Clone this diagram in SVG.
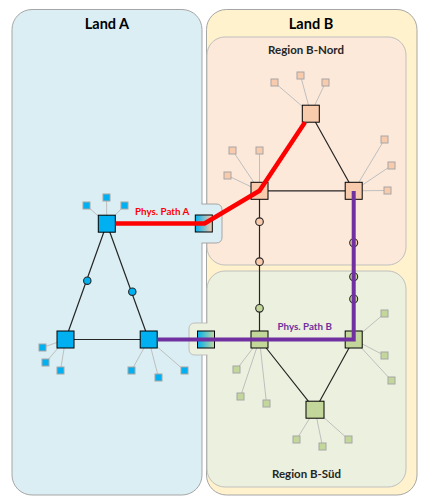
<svg xmlns="http://www.w3.org/2000/svg" width="426" height="503" viewBox="0 0 426 503">
<defs>
<linearGradient id="gA" x1="0" y1="0" x2="1" y2="0"><stop offset="0" stop-color="#00B0F0"/><stop offset="1" stop-color="#F8CBAD"/></linearGradient>
<linearGradient id="gB" x1="0" y1="0" x2="1" y2="0"><stop offset="0" stop-color="#00B0F0"/><stop offset="1" stop-color="#C4D79B"/></linearGradient>
<style>
text{font-family:"Lato","Liberation Sans",sans-serif;font-weight:bold}
.land{stroke:#A6A6A6;stroke-width:1}
.reg{stroke:#BFBFBF;stroke-width:1}
.title{font-size:14.5px;fill:#000;text-anchor:middle}
.rtitle{font-size:11.5px;fill:#262626;text-anchor:middle}
.sl{stroke:#BFBFBF;stroke-width:1;fill:none}
.e{stroke:#262626;stroke-width:1.2;fill:none}
.n{stroke:#000;stroke-width:1}
.s{stroke:#A6A6A6;stroke-width:1}
.blue{fill:#00B0F0}
.peach{fill:#F8CBAD}
.green{fill:#C4D79B}
.dot{stroke:#262626;stroke-width:1.1}
.plab{font-size:9.8px}
</style>
</defs>
<g id="land-a"><rect class="land" x="12" y="9.5" width="190" height="485.5" rx="20" fill="#DAEEF3"/><text class="title" x="107" y="29">Land A</text></g>
<g id="land-b"><rect class="land" x="206.5" y="9.5" width="210.5" height="485.5" rx="20" fill="#FFF2CC"/><text class="title" x="311" y="29">Land B</text></g>
<g id="region-b-nord"><rect class="reg" x="207" y="37" width="199" height="228" rx="18" fill="#FCE9DA"/><text class="rtitle" x="306" y="54">Region B-Nord</text></g>
<g id="region-b-sued"><rect class="reg" x="207" y="271" width="199" height="216" rx="18" fill="#EBF1DE"/><text class="rtitle" x="306.5" y="478">Region B-Süd</text></g>
<g id="tab-a"><path d="M196,204H216Q222,204 222,210V237Q222,243 216,243H196Z" fill="#DAEEF3"/><path class="land" d="M201.5,204H216Q222,204 222,210V237Q222,243 216,243H201.5" fill="none"/></g>
<g id="tab-b"><path d="M213,323H195Q189,323 189,329V349Q189,355 195,355H213Z" fill="#EBF1DE"/><path class="reg" d="M207.5,323H195Q189,323 189,329V349Q189,355 195,355H207.5" fill="none"/></g>
<g id="connectors">
<g id="sat-lines">
<path class="sl" d="M106.8,223.7L86.5,205.5M106.8,223.7L106.5,197.5M106.8,223.7L124.5,205.5"/>
<path class="sl" d="M65.5,339.5L42.5,347.5M65.5,339.5L45.5,362.5M65.5,339.5L60.5,370.5"/>
<path class="sl" d="M148.7,339.5L131.5,370.5M148.7,339.5L158.5,377.5M148.7,339.5L184.5,370.5"/>
<path class="sl" d="M310.8,113.7L274.5,82.5M310.8,113.7L300.5,75.5M310.8,113.7L325.5,82.5"/>
<path class="sl" d="M259.5,190.8L232.5,150.5M259.5,190.8L259.5,150.5M259.5,190.8L227.5,175.5"/>
<path class="sl" d="M353.7,190.8L384.5,139.5M353.7,190.8L391.5,165.5M353.7,190.8L387.5,190.5"/>
<path class="sl" d="M259.5,339.5L236.5,369.5M259.5,339.5L240.5,396.5M259.5,339.5L266.5,403.5"/>
<path class="sl" d="M353.7,339.5L384.5,313.5M353.7,339.5L384.5,355.5M353.7,339.5L391.5,380.5"/>
<path class="sl" d="M315,409.7L296.5,439.5M315,409.7L322.5,446.5M315,409.7L348.5,439.5"/>
</g>
<g id="edges">
<path class="e" d="M106.8,223.7L65.5,339.5M106.8,223.7L148.7,339.5M65.5,339.5H148.7"/>
<path class="e" d="M310.8,113.7L353.7,190.8M259.5,190.8H353.7M259.5,190.8V339.5"/>
<path class="e" d="M259.5,339.5L315,409.7M353.7,339.5L315,409.7"/>
</g>
<g id="dots">
<circle class="dot blue" cx="87.3" cy="280.7" r="3.7"/>
<circle class="dot blue" cx="132.3" cy="291.7" r="3.7"/>
<circle class="dot peach" cx="259.5" cy="221.7" r="3.8"/>
<circle class="dot peach" cx="259.5" cy="261.7" r="3.8"/>
<circle class="dot green" cx="259.5" cy="308.3" r="3.8"/>
<circle class="dot peach" cx="353.7" cy="242.7" r="4"/>
<circle class="dot green" cx="353.7" cy="276.7" r="4"/>
<circle class="dot green" cx="353.7" cy="299" r="4"/>
</g>
</g>
<g id="satellites">
<rect class="s blue" x="83" y="202" width="7" height="7"/><rect class="s blue" x="103" y="194" width="7" height="7"/><rect class="s blue" x="121" y="202" width="7" height="7"/>
<rect class="s blue" x="39" y="344" width="7" height="7"/><rect class="s blue" x="42" y="359" width="7" height="7"/><rect class="s blue" x="57" y="367" width="7" height="7"/>
<rect class="s blue" x="128" y="367" width="7" height="7"/><rect class="s blue" x="155" y="374" width="7" height="7"/><rect class="s blue" x="181" y="367" width="7" height="7"/>
<rect class="s peach" x="271" y="79" width="7" height="7"/><rect class="s peach" x="297" y="72" width="7" height="7"/><rect class="s peach" x="322" y="79" width="7" height="7"/>
<rect class="s peach" x="229" y="147" width="7" height="7"/><rect class="s peach" x="256" y="147" width="7" height="7"/><rect class="s peach" x="224" y="172" width="7" height="7"/>
<rect class="s peach" x="381" y="136" width="7" height="7"/><rect class="s peach" x="388" y="162" width="7" height="7"/><rect class="s peach" x="384" y="187" width="7" height="7"/>
<rect class="s green" x="233" y="366" width="7" height="7"/><rect class="s green" x="237" y="393" width="7" height="7"/><rect class="s green" x="263" y="400" width="7" height="7"/>
<rect class="s green" x="381" y="310" width="7" height="7"/><rect class="s green" x="381" y="352" width="7" height="7"/><rect class="s green" x="388" y="377" width="7" height="7"/>
<rect class="s green" x="293" y="436" width="7" height="7"/><rect class="s green" x="319" y="443" width="7" height="7"/><rect class="s green" x="345" y="436" width="7" height="7"/>
</g>
<g id="node-a1"><rect class="n blue" x="98.3" y="215.2" width="17" height="17"/></g>
<g id="node-a2"><rect class="n blue" x="57" y="331" width="17" height="17"/></g>
<g id="node-a3"><rect class="n blue" x="140.2" y="331" width="17" height="17"/></g>
<g id="node-n-top"><rect class="n peach" x="302.3" y="105.2" width="17" height="17"/></g>
<g id="node-n1"><rect class="n peach" x="251" y="182.3" width="17" height="17"/></g>
<g id="node-n-right"><rect class="n peach" x="345.2" y="182.3" width="17" height="17"/></g>
<g id="node-s1"><rect class="n green" x="251" y="331" width="17" height="17"/></g>
<g id="node-s2"><rect class="n green" x="345.2" y="331" width="17" height="17"/></g>
<g id="node-s3"><rect class="n green" x="306" y="401.2" width="18" height="17"/></g>
<g id="gateway-a"><rect class="n" fill="url(#gA)" x="195.3" y="215" width="17" height="17"/></g>
<g id="gateway-b"><rect class="n" fill="url(#gB)" x="197.5" y="331" width="17" height="17"/></g>
<g id="paths">
<path d="M115.3,223.5H204.5L259.5,190.8L305,122.3" fill="none" stroke="#FF0000" stroke-width="4.5" stroke-linejoin="round"/>
<path d="M353.7,191V339.5H157.2" fill="none" stroke="#7030A0" stroke-width="4" stroke-linejoin="miter"/>
<text class="plab" x="135" y="215" fill="#FF0000">Phys. Path A</text>
<text class="plab" x="277.5" y="330" fill="#7030A0">Phys. Path B</text>
</g>
</svg>
